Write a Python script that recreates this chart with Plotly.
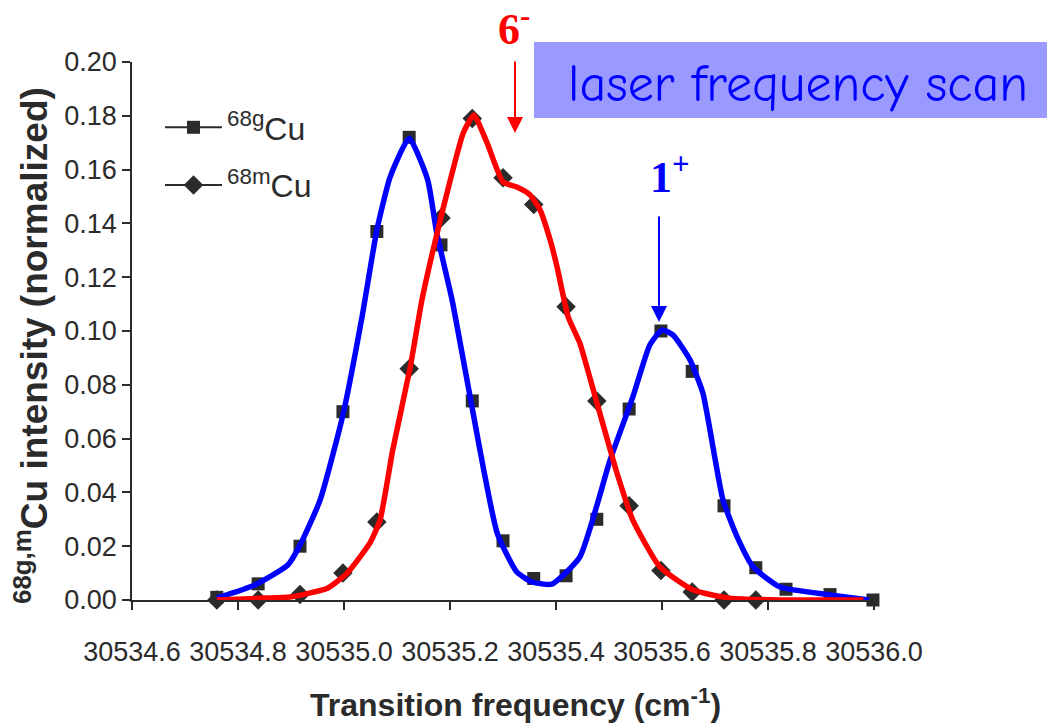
import plotly.graph_objects as go

# Scan points (transition frequency, cm^-1) shared by both isomers
freq = [30534.760, 30534.838, 30534.917, 30534.998, 30535.062, 30535.123,
        30535.183, 30535.242, 30535.300, 30535.358, 30535.419, 30535.477,
        30535.538, 30535.598, 30535.657, 30535.717, 30535.777, 30535.834,
        30535.917, 30535.998]

# Normalized intensities
cu68g = [0.001, 0.006, 0.020, 0.070, 0.137, 0.172, 0.132, 0.074, 0.022, 0.008,
         0.009, 0.030, 0.071, 0.100, 0.085, 0.035, 0.012, 0.004, 0.002, 0.000]
cu68m = [0.000, 0.000, 0.002, 0.010, 0.029, 0.086, 0.142, 0.179, 0.157, 0.147,
         0.109, 0.074, 0.035, 0.011, 0.003, 0.000, 0.000, -0.001, -0.001, -0.001]

# Smooth guide curves traced over the two isomer profiles
blue_x = [30534.760, 30534.832, 30534.894, 30534.917, 30534.955, 30534.998,
          30535.034, 30535.062, 30535.087, 30535.123, 30535.158, 30535.175,
          30535.204, 30535.238, 30535.289, 30535.326, 30535.355, 30535.392,
          30535.445, 30535.502, 30535.545, 30535.577, 30535.600, 30535.621,
          30535.653, 30535.677, 30535.715, 30535.742, 30535.772, 30535.823,
          30535.917, 30535.990]
blue_y = [0.0007, 0.0056, 0.0130, 0.0204, 0.0372, 0.0688,
          0.1052, 0.1375, 0.1572, 0.1717, 0.1561, 0.1364,
          0.1115, 0.0755, 0.0249, 0.0104, 0.0067, 0.0059,
          0.0160, 0.0520, 0.0755, 0.0948, 0.1004, 0.0985,
          0.0892, 0.0770, 0.0372, 0.0234, 0.0123, 0.0048,
          0.0019, 0.0000]

red_x = [30534.760, 30534.847, 30534.898, 30534.970, 30535.006, 30535.049,
         30535.068, 30535.092, 30535.125, 30535.147, 30535.168, 30535.191,
         30535.225, 30535.245, 30535.270, 30535.300, 30535.326, 30535.351,
         30535.370, 30535.389, 30535.402, 30535.423, 30535.445, 30535.474,
         30535.515, 30535.545, 30535.596, 30535.659, 30535.728, 30535.823,
         30535.980]
red_y = [0.0000, 0.0007, 0.0011, 0.0045, 0.0100, 0.0212,
         0.0297, 0.0558, 0.0866, 0.1115, 0.1301, 0.1487,
         0.1736, 0.1803, 0.1699, 0.1554, 0.1535, 0.1506,
         0.1450, 0.1338, 0.1238, 0.1052, 0.0955, 0.0755,
         0.0472, 0.0297, 0.0123, 0.0037, 0.0007, 0.0000,
         0.0000]

x_ticks = [30534.6, 30534.8, 30535.0, 30535.2, 30535.4, 30535.6, 30535.8, 30536.0]
y_ticks = [0.00, 0.02, 0.04, 0.06, 0.08, 0.10, 0.12, 0.14, 0.16, 0.18, 0.20]

names = ["<sup>68g</sup>Cu", "<sup>68m</sup>Cu"]

INK = "#2b2b2b"
SANS = "Liberation Sans, Arial, sans-serif"
SERIF = "Liberation Serif, Times New Roman, serif"

fig = go.Figure()

# data markers
fig.add_trace(go.Scatter(x=freq, y=cu68g, mode="markers", showlegend=False,
                         marker=dict(symbol="square", size=13, color=INK),
                         cliponaxis=False))
fig.add_trace(go.Scatter(x=freq, y=cu68m, mode="markers", showlegend=False,
                         marker=dict(symbol="diamond", size=15, color=INK),
                         cliponaxis=False))

# guide curves
fig.add_trace(go.Scatter(x=blue_x, y=blue_y, mode="lines", showlegend=False,
                         line=dict(color="#0000ff", width=5.5, shape="spline", smoothing=0.5),
                         cliponaxis=False))
fig.add_trace(go.Scatter(x=red_x, y=red_y, mode="lines", showlegend=False,
                         line=dict(color="#ff0000", width=5.5, shape="spline", smoothing=0.5),
                         cliponaxis=False))

# legend entries (black line with marker)
fig.add_trace(go.Scatter(x=[None], y=[None], mode="lines+markers", name=names[0],
                         legendgroup="g",
                         line=dict(color=INK, width=2),
                         marker=dict(symbol="square", size=13, color=INK)))
fig.add_trace(go.Scatter(x=[None], y=[None], mode="lines+markers", name=names[1],
                         legendgroup="m",
                         line=dict(color=INK, width=2),
                         marker=dict(symbol="diamond", size=15, color=INK)))

# plot-area position helpers (paper coordinates)
L, T, W, H = 132, 62, 742, 538


def px(xp):
    return (xp - L) / W


def py(yp):
    return (T + H - yp) / H


annotations = [
    # y-axis title
    dict(text="<b><sup>68g,m</sup>Cu intensity (normalized)</b>", textangle=-90,
         x=px(32), y=py(346), xref="paper", yref="paper", showarrow=False,
         xanchor="center", yanchor="middle",
         font=dict(family=SANS, size=37, color=INK)),
    # x-axis title
    dict(text="<b>Transition frequency (cm<sup>-1</sup>)</b>",
         x=px(515), y=py(703), xref="paper", yref="paper", showarrow=False,
         xanchor="center", yanchor="middle",
         font=dict(family=SANS, size=32, color=INK)),
    # 6- label and arrow
    dict(text="<b>6<sup>-</sup></b>", x=px(514), y=py(26), xref="paper", yref="paper",
         showarrow=False, xanchor="center", yanchor="middle",
         font=dict(family=SERIF, size=44, color="#ff0000")),
    dict(text="", x=px(515), y=py(133), xref="paper", yref="paper",
         showarrow=True, ax=0, ay=-73, arrowhead=2, arrowsize=1.6, arrowwidth=2,
         arrowcolor="#ff0000"),
    # 1+ label and arrow
    dict(text="<b>1<sup>+</sup></b>", x=px(670), y=py(175), xref="paper", yref="paper",
         showarrow=False, xanchor="center", yanchor="middle",
         font=dict(family=SERIF, size=44, color="#0000ff")),
    dict(text="", x=px(659), y=py(322), xref="paper", yref="paper",
         showarrow=True, ax=0, ay=-107, arrowhead=2, arrowsize=1.6, arrowwidth=2,
         arrowcolor="#0000ff"),
    # banner text
    dict(text="laser frequency scan", x=px(798), y=py(84), xref="paper", yref="paper",
         showarrow=False, xanchor="center", yanchor="middle",
         font=dict(family="Comic Sans MS, Comic Neue, Open Sans, sans-serif",
                   size=52, color="#0000ff")),
]

shapes = [
    dict(type="rect", xref="paper", yref="paper",
         x0=px(534), x1=px(1047), y0=py(118), y1=py(42),
         fillcolor="#9999ff", line=dict(width=0), layer="below"),
]

fig.update_layout(
    width=1054, height=725,
    margin=dict(l=L, r=1054 - L - W, t=T, b=725 - T - H),
    paper_bgcolor="white", plot_bgcolor="white",
    font=dict(family=SANS, color=INK),
    showlegend=True,
    legend=dict(x=px(160), y=py(100), xanchor="left", yanchor="top",
                bgcolor="rgba(0,0,0,0)", font=dict(family=SANS, size=32, color=INK),
                itemwidth=57, tracegroupgap=13, traceorder="grouped"),
    annotations=annotations,
    shapes=shapes,
    xaxis=dict(range=[x_ticks[0], x_ticks[-1]], tickmode="array", tickvals=x_ticks,
               ticktext=[f"{v:.1f}" for v in x_ticks],
               ticks="outside", ticklen=8, tickwidth=1.5, tickcolor=INK,
               showline=True, linecolor=INK, linewidth=1.5,
               showgrid=False, zeroline=False, ticklabelstandoff=19,
               tickfont=dict(family=SANS, size=27, color=INK)),
    yaxis=dict(range=[0, 0.2], tickmode="array", tickvals=y_ticks,
               ticktext=[f"{v:.2f}" for v in y_ticks],
               ticks="outside", ticklen=8, tickwidth=1.5, tickcolor=INK,
               showline=True, linecolor=INK, linewidth=1.5,
               showgrid=False, zeroline=False,
               tickfont=dict(family=SANS, size=27, color=INK)),
)

fig.write_html("out.html")
